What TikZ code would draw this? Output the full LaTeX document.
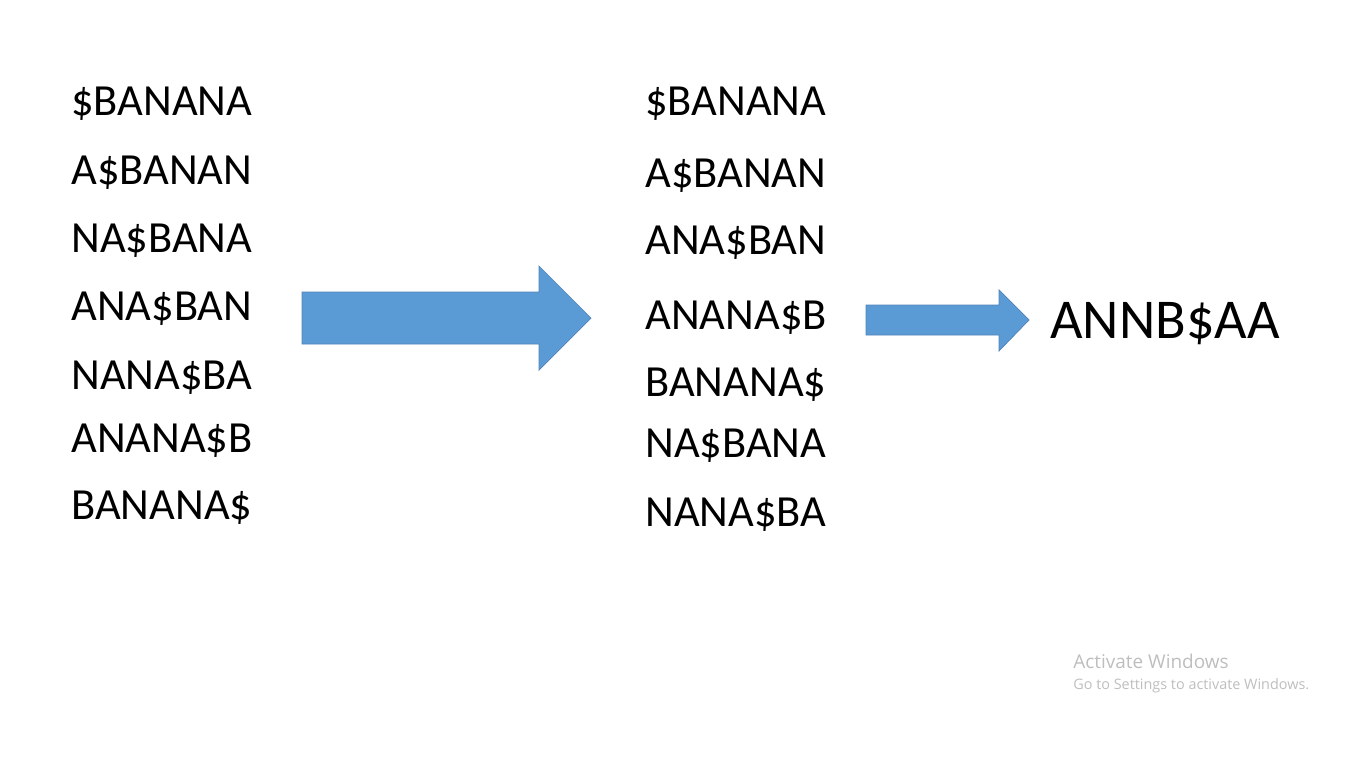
\documentclass[tikz,border=0pt]{standalone}
\usepackage{fontspec}
\setmainfont{Carlito}
\newfontfamily\wmfont{Open Sans}
\usetikzlibrary{positioning}

\begin{document}
\begin{tikzpicture}[x=0.02cm,y=-0.02cm]
        \tikzstyle{every node}=[inner sep=0pt,anchor=base west]
        \tikzstyle{rot}=[font=\fontsize{25.3}{30}\selectfont]
        \tikzstyle{bwt}=[font=\fontsize{32}{38}\selectfont]
        \tikzstyle{bigarrow}=[fill={rgb,255:red,91;green,155;blue,213},draw={rgb,255:red,80;green,130;blue,185},line width=0.4pt]
        \tikzstyle{wm}=[font=\wmfont,text={rgb,255:red,190;green,190;blue,190}]

        \useasboundingbox (0,0) rectangle (1366,768);

        % rotations
        \foreach \s/\y [count=\i] in {\$BANANA/101, A\$BANAN/170, NA\$BANA/238, ANA\$BAN/306, NANA\$BA/375, ANANA\$B/438, BANANA\$/505} {
            \node [rot] (rot\i) at (71,\y+14.4) {\s};
        };
        % sorted rotations
        \foreach \s/\y [count=\i] in {\$BANANA/101, A\$BANAN/173, ANA\$BAN/240, ANANA\$B/315, BANANA\$/382, NA\$BANA/443, NANA\$BA/512} {
            \node [rot] (srt\i) at (645,\y+14.4) {\s};
        };
        \node [bwt] (bwt) at (1050,338.2) {ANNB\$AA};

        \draw [bigarrow] (302,292) -- (539,292) -- (539,266) -- (591,318) -- (539,370) -- (539,344) -- (302,344) -- cycle;  % sort
        \draw [bigarrow] (866,305) -- (999,305) -- (999,290) -- (1029,320) -- (999,351) -- (999,335) -- (866,335) -- cycle;  % last column

        \node [wm,font=\wmfont\fontsize{10.8}{13}\selectfont] (wm1) at (1073,668) {Activate Windows};
        \node [wm,font=\wmfont\fontsize{8.2}{10}\selectfont] (wm2) at (1073,689) {Go to Settings to activate Windows.};
\end{tikzpicture}
\end{document}
